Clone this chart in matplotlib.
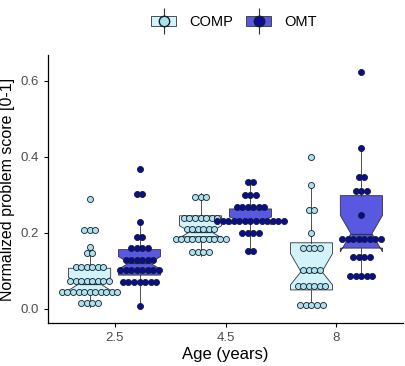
import matplotlib
matplotlib.use("Agg")
import matplotlib.pyplot as plt
from matplotlib.patches import Patch
from matplotlib.lines import Line2D
from matplotlib.legend_handler import HandlerTuple

plt.rcParams['font.family'] = ['Liberation Sans', 'DejaVu Sans']

ages = ["2.5", "4.5", "8"]

# dot rows: row value and number of dots per row
comp_vals = [[0.289, 0.208, 0.164, 0.147, 0.111, 0.0745, 0.0456, 0.015],
             [0.295, 0.239, 0.211, 0.185, 0.151],
             [0.399, 0.325, 0.261, 0.199, 0.161, 0.102, 0.060, 0.0105]]
comp_counts = [[1, 3, 1, 2, 6, 8, 11, 4],
               [3, 7, 6, 10, 4],
               [1, 1, 2, 1, 4, 4, 6, 5]]
omt_vals = [[0.368, 0.302, 0.228, 0.189, 0.161, 0.130, 0.103, 0.072, 0.008],
            [0.334, 0.301, 0.269, 0.231, 0.201, 0.153],
            [0.622, 0.423, 0.348, 0.311, 0.248, 0.185, 0.136, 0.086]]
omt_counts = [[1, 2, 1, 2, 4, 6, 8, 7, 1],
              [2, 3, 6, 13, 4, 2],
              [1, 1, 2, 3, 1, 8, 4, 5]]

# box statistics
comp_q1 = [0.042, 0.190, 0.050]
comp_med = [0.066, 0.203, 0.098]
comp_q3 = [0.107, 0.245, 0.174]
comp_cilo = [0.049, 0.187, 0.063]
comp_cihi = [0.083, 0.219, 0.146]
comp_wlo = [0.006, 0.140, 0.003]
comp_whi = [0.164, 0.305, 0.324]

omt_q1 = [0.089, 0.228, 0.160]
omt_med = [0.121, 0.232, 0.198]
omt_q3 = [0.156, 0.263, 0.298]
omt_cilo = [0.104, 0.222, 0.150]
omt_cihi = [0.138, 0.242, 0.246]
omt_wlo = [0.008, 0.148, 0.083]
omt_whi = [0.229, 0.340, 0.423]

comp_box = "#d3f3fa"
comp_dot = "#afe0ee"
omt_box = "#5858e0"
omt_dot = "#0c0c92"
edge = "#333333"

fig = plt.figure(figsize=(4.05, 3.66), dpi=100)
ax = fig.add_axes([48 / 405, 43 / 366, 355 / 405, 268 / 366])

offset = 0.225
bw = 0.38
spacing = 0.05


def stats_list(q1, med, q3, cilo, cihi, wlo, whi):
    out = []
    for i in range(len(q1)):
        out.append(dict(q1=q1[i], med=med[i], q3=q3[i], cilo=cilo[i],
                        cihi=cihi[i], whislo=wlo[i], whishi=whi[i], fliers=[]))
    return out


for stats, shift, fc in [
        (stats_list(comp_q1, comp_med, comp_q3, comp_cilo, comp_cihi, comp_wlo, comp_whi), -offset, comp_box),
        (stats_list(omt_q1, omt_med, omt_q3, omt_cilo, omt_cihi, omt_wlo, omt_whi), offset, omt_box)]:
    pos = [i + 1 + shift for i in range(3)]
    ax.bxp(stats, positions=pos, widths=bw, shownotches=True, showcaps=False,
           showfliers=False, patch_artist=True, manage_ticks=False,
           boxprops=dict(facecolor=fc, edgecolor=edge, linewidth=0.6),
           whiskerprops=dict(color=edge, linewidth=0.6),
           medianprops=dict(color=edge, linewidth=0.9), zorder=2)

# centered dot stacks
for vals, counts, shift, fc in [(comp_vals, comp_counts, -offset, comp_dot),
                                (omt_vals, omt_counts, offset, omt_dot)]:
    for g in range(3):
        xs, ys = [], []
        for v, k in zip(vals[g], counts[g]):
            for j in range(k):
                xs.append(g + 1 + shift + (j - (k - 1) / 2) * spacing)
                ys.append(v)
        ax.scatter(xs, ys, s=19, c=fc, edgecolors="#10202a", linewidths=0.6, zorder=3)

ax.set_xlim(0.4, 3.6)
ax.set_ylim(-0.037, 0.668)
ax.set_xticks([1, 2, 3])
ax.set_xticklabels(ages)
ax.set_yticks([0.0, 0.2, 0.4, 0.6])
ax.set_yticklabels(["0.0", "0.2", "0.4", "0.6"])
ax.tick_params(colors="#4d4d4d", labelsize=9.5, length=3, width=0.8)
ax.tick_params(axis="both", color="black")
for s in ["top", "right"]:
    ax.spines[s].set_visible(False)
for s in ["left", "bottom"]:
    ax.spines[s].set_linewidth(0.9)
ax.set_xlabel("Age (years)", fontsize=12, labelpad=2)
ax.set_ylabel("Normalized problem score [0-1]", fontsize=11.5, labelpad=4)

vline = Line2D([], [], marker="|", markersize=19, color=edge, linestyle="none", markeredgewidth=0.8)
handles = [
    (Patch(facecolor=comp_box, edgecolor=edge, linewidth=0.6), vline,
     Line2D([], [], marker="o", markersize=7.5, markerfacecolor=comp_dot,
            markeredgecolor="#10202a", linestyle="none")),
    (Patch(facecolor=omt_box, edgecolor=edge, linewidth=0.6), vline,
     Line2D([], [], marker="o", markersize=7.5, markerfacecolor=omt_dot,
            markeredgecolor="#10202a", linestyle="none")),
]
fig.legend(handles, ["COMP", "OMT"], loc="upper center", bbox_to_anchor=(0.578, 0.995),
           ncol=2, frameon=False, fontsize=10.5, handlelength=1.7, handleheight=0.75,
           handletextpad=0.9, columnspacing=0.9,
           handler_map={tuple: HandlerTuple(ndivide=1)})

fig.savefig("out.png", dpi=100)
